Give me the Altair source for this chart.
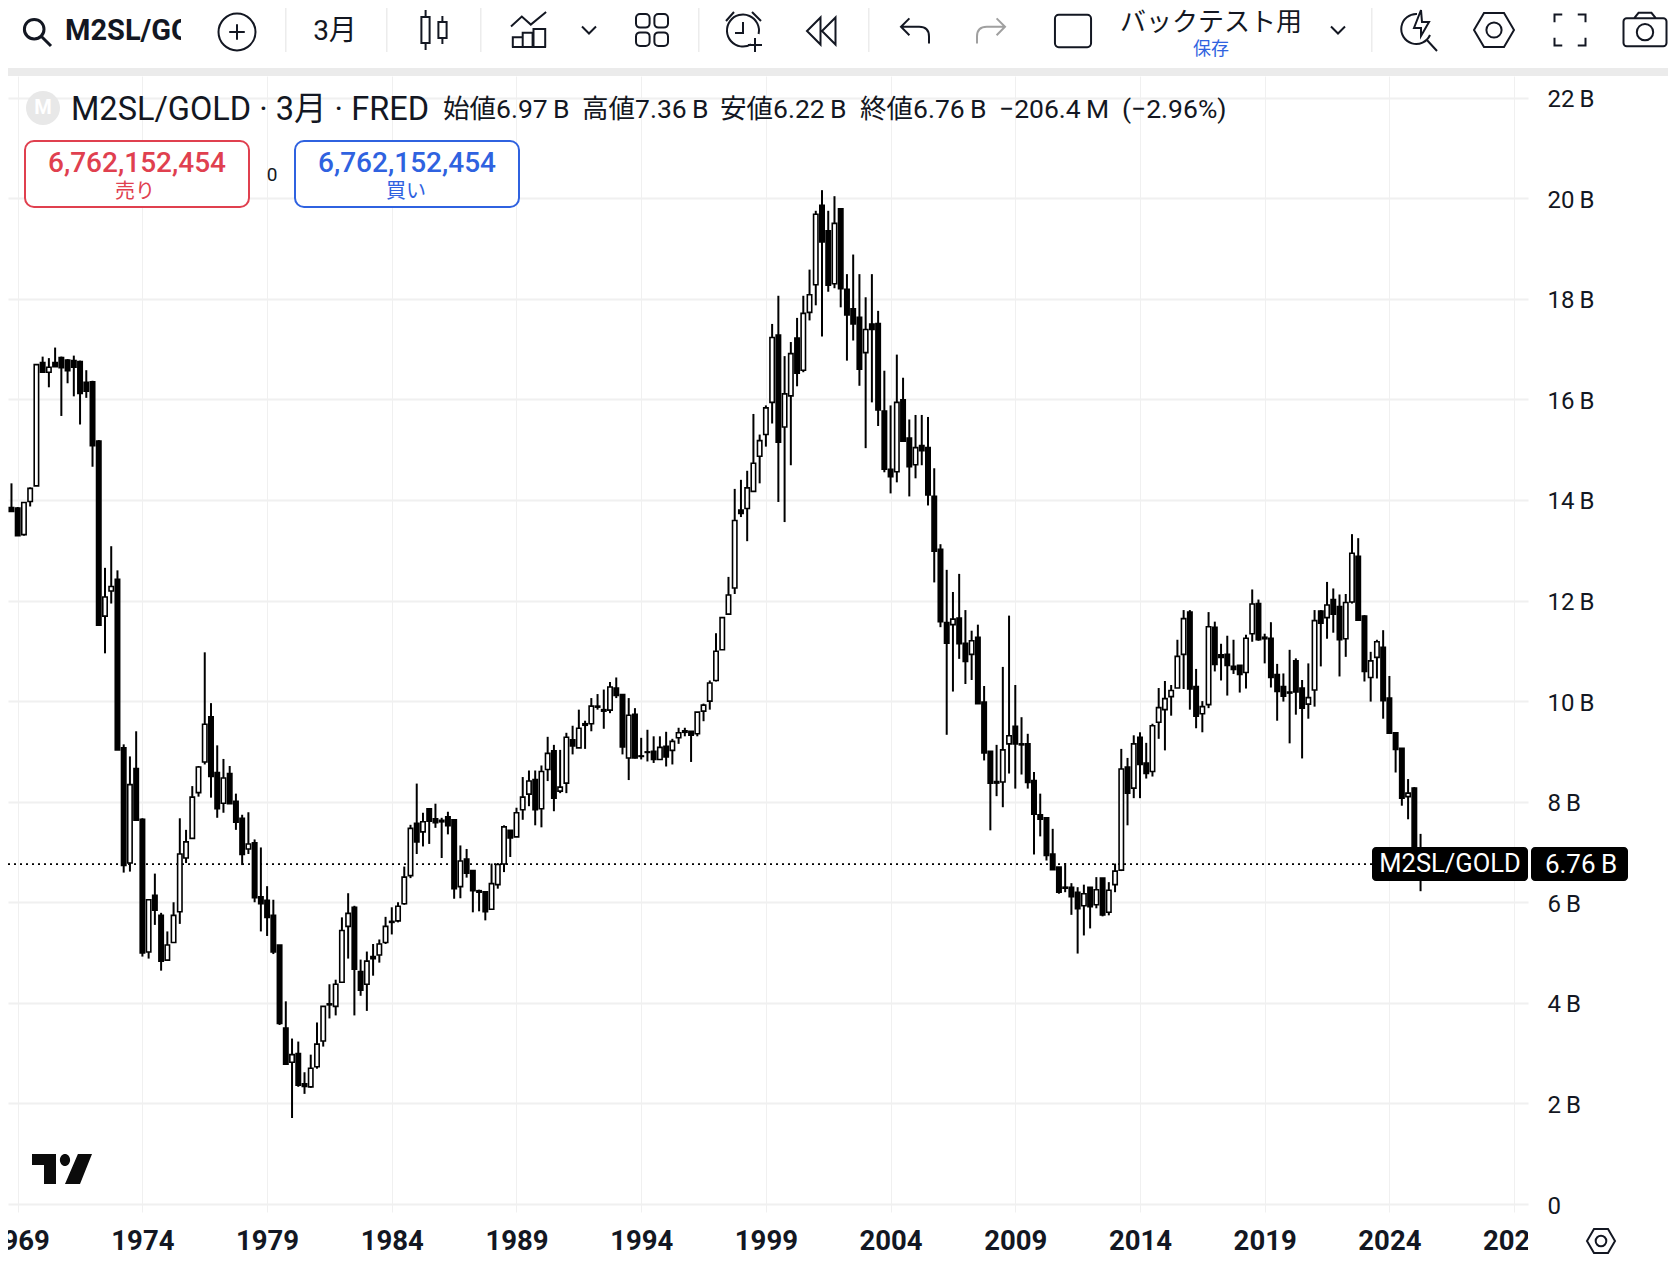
import altair as alt
import pandas as pd

# Quarterly M2SL/GOLD candles, billions, first candle = 1968 Q4
START_YEAR = 1968.75
opens = [
 13.85,13.84,13.31,13.97,14.28,16.73,16.54,16.73,16.83,16.78,
 16.77,16.75,16.34,16.35,15.17,11.69,12.19,12.42,9.07,6.78,
 8.66,7.65,5.01,6.14,5.74,4.85,5.20,5.81,6.88,7.27,
 8.18,8.79,9.69,8.58,7.97,8.56,8.01,7.67,7.06,7.18,
 6.11,6.04,5.74,5.15,3.50,2.82,2.99,2.39,2.33,2.73,
 3.24,3.98,3.93,4.41,5.52,5.90,4.62,4.37,4.92,4.95,
 5.20,5.62,5.63,5.97,6.53,7.57,7.40,7.86,7.66,7.63,
 7.70,7.64,6.31,6.86,6.63,6.23,6.21,5.86,6.35,6.76,
 7.43,7.30,7.84,8.15,8.44,7.86,8.64,9.01,8.21,8.37,
 9.23,9.07,9.55,9.55,9.90,9.83,9.82,10.26,10.13,8.87,
 9.74,8.91,8.99,9.00,8.84,9.10,9.02,9.27,9.41,9.40,
 9.35,9.80,10.00,10.41,11.02,11.73,12.25,13.80,13.83,14.17,
 14.87,15.30,15.94,17.28,15.45,16.07,17.22,16.58,17.73,18.28,
 19.86,19.35,18.30,19.79,18.19,17.80,17.63,16.93,17.50,17.51,
 15.77,14.61,14.56,15.99,15.23,14.70,15.08,15.04,14.07,13.02,
 11.56,11.52,11.65,11.15,10.93,11.27,9.98,9.00,8.40,8.39,
 9.15,9.50,9.15,9.15,8.42,7.74,7.68,6.96,6.70,6.30,
 6.30,6.20,5.93,6.30,5.95,6.48,5.80,6.35,6.64,8.69,
 8.27,9.28,8.77,8.60,9.58,9.83,10.09,10.26,10.93,11.77,
 10.29,9.75,9.93,11.47,10.92,10.93,10.69,10.71,10.57,11.34,
 11.94,11.27,11.25,10.53,10.29,10.18,10.80,10.26,9.94,10.22,
 11.79,11.66,12.02,11.88,11.24,11.97,12.88,11.69,10.47,10.87,
 11.07,10.06,9.37,9.06,8.10,8.27,6.97]
closes = [
 13.77,13.29,13.95,14.23,16.69,16.54,16.64,16.65,16.63,16.57,
 16.64,16.12,16.16,15.08,11.51,12.07,12.28,9.03,6.73,8.34,
 7.63,4.99,6.05,5.84,4.83,5.15,5.74,6.96,7.20,8.09,
 8.69,9.54,8.50,7.86,8.47,7.96,7.59,6.95,7.16,6.09,
 5.97,5.70,5.01,3.59,2.78,2.97,2.36,2.34,2.70,3.18,
 3.93,3.96,4.37,5.44,5.78,4.67,4.25,4.83,4.88,5.17,
 5.52,5.60,5.92,6.50,7.47,7.20,7.60,7.61,7.58,7.60,
 7.52,6.27,6.82,6.58,6.23,6.20,5.81,6.37,6.75,7.50,
 7.28,7.78,8.09,8.41,7.84,8.60,8.96,8.07,8.29,9.28,
 9.11,9.46,9.52,9.90,9.88,9.80,10.28,10.11,9.09,9.72,
 8.87,8.90,8.98,8.84,9.08,8.89,9.20,9.37,9.38,9.32,
 9.78,9.92,10.36,10.99,11.66,12.11,13.59,13.73,14.24,14.73,
 15.18,15.83,17.23,15.15,16.11,16.91,16.52,17.71,18.08,19.68,
 19.13,18.27,19.50,18.20,17.68,17.50,16.60,17.39,17.39,15.79,
 14.61,14.46,15.94,15.17,14.66,15.04,14.98,14.10,12.98,11.58,
 11.15,11.63,11.14,10.79,11.20,9.95,8.97,8.37,8.37,9.03,
 9.31,9.15,9.13,8.38,7.75,7.65,6.93,6.65,6.20,6.28,
 6.11,5.87,6.17,5.91,6.25,5.75,6.24,6.62,8.65,8.17,
 9.15,8.74,8.56,9.51,9.87,10.05,10.21,10.89,11.64,10.24,
 9.70,9.89,11.48,10.73,10.87,10.71,10.63,10.53,11.25,11.93,
 11.22,11.24,10.47,10.19,10.10,10.16,10.18,9.86,10.07,11.60,
 11.55,11.91,11.73,11.22,11.96,12.94,11.61,10.59,10.80,11.18,
 10.01,9.36,9.04,8.07,8.17,6.97,6.76]
highs = [
 14.33,13.86,13.95,14.25,16.69,16.85,16.82,17.03,16.85,16.80,
 16.87,16.77,16.58,16.37,15.19,12.65,13.08,12.60,9.14,8.90,
 9.40,7.67,6.05,6.57,5.79,5.42,6.00,7.67,7.44,8.31,
 8.71,10.97,9.96,9.12,8.85,8.71,8.16,7.74,7.79,7.25,
 7.09,6.32,6.05,5.15,4.03,3.29,3.23,2.62,2.97,3.61,
 3.93,4.37,4.46,5.70,6.18,5.93,4.86,5.02,5.17,5.26,
 5.71,5.90,6.00,6.71,7.54,8.36,7.78,7.86,7.96,7.68,
 7.80,7.64,7.13,7.06,6.63,6.25,6.21,6.77,6.78,7.53,
 7.43,7.88,8.49,8.62,8.62,8.72,9.29,9.13,9.03,9.37,
 9.51,9.83,9.61,10.06,10.14,10.23,10.38,10.47,10.13,10.06,
 9.86,9.27,9.43,9.30,9.30,9.39,9.25,9.47,9.47,9.40,
 9.78,9.95,10.41,11.35,11.66,12.47,14.22,14.40,14.58,15.71,
 15.30,15.88,17.50,18.06,16.86,17.14,17.62,18.06,18.58,19.75,
 20.16,19.75,20.04,19.79,18.49,18.88,18.49,18.03,18.49,17.76,
 16.57,15.88,16.89,16.43,15.60,15.69,15.69,15.65,14.63,13.12,
 12.61,12.17,12.53,11.81,11.40,11.52,10.30,9.00,9.13,10.68,
 11.70,10.32,9.68,9.35,8.59,8.16,7.69,7.46,6.70,6.78,
 6.38,6.30,6.35,6.30,6.50,6.48,6.40,6.77,9.05,8.87,
 9.32,9.38,9.17,9.55,10.26,10.40,10.32,11.22,11.81,11.81,
 10.64,10.00,11.77,11.58,11.14,11.30,11.22,10.71,11.32,12.22,
 12.02,11.34,11.57,10.74,10.55,11.02,10.85,10.42,10.75,11.81,
 11.81,12.37,12.24,12.12,12.13,13.32,13.24,11.71,10.98,11.22,
 11.41,10.50,9.37,9.06,8.45,8.29,7.36]
lows = [
 13.77,13.29,13.29,13.87,14.28,16.54,16.24,16.65,15.67,16.32,
 16.06,15.50,16.03,14.66,11.51,10.95,11.94,9.03,6.59,6.61,
 7.63,4.92,4.88,5.55,4.64,4.85,5.20,5.57,6.78,7.27,
 8.10,8.74,8.08,7.68,7.78,7.96,7.44,6.74,6.96,6.00,
 5.42,5.33,4.97,3.56,2.78,1.71,2.33,2.19,2.31,2.69,
 3.13,3.69,3.75,4.41,4.88,3.75,4.14,3.84,4.54,4.80,
 5.17,5.36,5.60,5.95,6.48,6.96,7.11,7.16,7.48,6.88,
 7.35,6.07,6.08,6.49,5.80,5.82,5.64,5.86,6.27,6.60,
 6.90,7.30,7.64,7.91,7.53,7.49,8.41,7.81,8.17,8.17,
 8.94,9.07,9.05,9.40,9.83,9.45,9.76,10.06,8.94,8.43,
 8.86,8.84,8.80,8.77,8.84,8.70,8.74,9.15,9.30,8.79,
 9.30,9.60,9.83,10.39,11.02,11.73,12.13,13.66,13.18,14.17,
 14.33,15.06,15.52,13.96,13.56,14.69,16.26,16.54,17.57,17.87,
 17.25,18.14,18.21,17.83,16.77,17.17,16.27,15.03,15.94,15.47,
 14.55,14.13,14.35,15.17,14.07,14.43,14.69,13.89,12.36,11.47,
 9.33,10.19,10.84,10.34,10.42,9.95,8.82,7.43,8.11,7.89,
 8.56,8.26,8.54,8.26,6.95,7.31,6.83,6.65,6.17,6.20,
 5.75,4.98,5.34,5.48,5.88,5.72,5.74,6.20,6.62,7.53,
 8.07,8.07,8.46,8.50,9.25,9.02,9.71,10.26,10.24,9.83,
 9.46,9.38,9.86,10.59,10.41,10.11,10.54,10.17,10.25,11.18,
 11.20,10.75,10.27,9.61,9.99,9.16,9.73,8.86,9.65,9.89,
 10.69,11.24,11.36,10.49,10.88,11.94,11.60,10.39,9.99,10.45,
 9.65,9.36,8.58,7.92,7.65,6.97,6.22]

year_ticks = [1969, 1974, 1979, 1984, 1989, 1994, 1999, 2004, 2009, 2014, 2019, 2024, 2029]
price_ticks = [0, 2, 4, 6, 8, 10, 12, 14, 16, 18, 20, 22]
last_price = 6.76

INK = "#131722"
RED = "#e0404f"
BLUE = "#2f62e0"
GREY = "#ebebeb"
GRID = "#f0f0f0"
FONT = "Roboto, 'Noto Sans CJK JP'"

df = pd.DataFrame({
    "year": [START_YEAR + i * 0.25 for i in range(len(opens))],
    "open": opens, "high": highs, "low": lows, "close": closes,
})

X0, Y0 = 8, 76      # page position of the plot area
W, H = 1520, 1136
x_scale = alt.Scale(domain=[1968.611, 2029.558], nice=False, zero=False, padding=0)
y_scale = alt.Scale(domain=[-0.159, 22.43], nice=False, zero=False)

one = alt.Data(values=[{"a": 1}])


def txt(s, x, y, size, color=INK, align="left", weight="normal", font=FONT):
    return alt.Chart(one).mark_text(
        text=s, fontSize=size, color=color, align=align, baseline="middle",
        fontWeight=weight, font=font,
    ).encode(x=alt.value(x - X0), y=alt.value(y - Y0))


def box(x0, y0, x1, y1, fill=None, stroke=None, sw=0, radius=0):
    kw = {"cornerRadius": radius, "strokeWidth": sw}
    if fill:
        kw["fill"] = fill
    else:
        kw["fillOpacity"] = 0
    if stroke:
        kw["stroke"] = stroke
    return alt.Chart(one).mark_rect(**kw).encode(
        x=alt.value(x0 - X0), x2=alt.value(x1 - X0),
        y=alt.value(y0 - Y0), y2=alt.value(y1 - Y0))


def icon(path, cx, cy, r, stroke=INK, sw=2.0, fill=None):
    kw = {"shape": path, "size": (2 * r) ** 2, "opacity": 1, "strokeWidth": sw, "stroke": stroke}
    if fill:
        kw["fill"] = fill
        kw["filled"] = True
    else:
        kw["filled"] = False
    return alt.Chart(one).mark_point(**kw).encode(x=alt.value(cx - X0), y=alt.value(cy - Y0))


def circ(cx, cy, r):
    return f"M{cx-r},{cy}A{r},{r} 0 1,1 {cx+r},{cy}A{r},{r} 0 1,1 {cx-r},{cy}Z"


def rrect(x0, y0, x1, y1, q):
    return (f"M{x0+q},{y0}L{x1-q},{y0}A{q},{q} 0 0,1 {x1},{y0+q}L{x1},{y1-q}A{q},{q} 0 0,1 {x1-q},{y1}"
            f"L{x0+q},{y1}A{q},{q} 0 0,1 {x0},{y1-q}L{x0},{y0+q}A{q},{q} 0 0,1 {x0+q},{y0}Z")


wicks = alt.Chart(df).mark_rule(color="black", strokeWidth=2).encode(
    x=alt.X("year:Q", scale=x_scale, title=None, axis=alt.Axis(
        values=year_ticks, format="d", grid=True, gridColor=GRID, gridWidth=1,
        domain=False, ticks=False, labelFontSize=27.5, labelFontWeight="bold", labelColor=INK,
        labelFont="Roboto", labelPadding=15, labelOverlap=False, labelFlush=False, labelBound=False)),
    y=alt.Y("low:Q", scale=y_scale, title=None, axis=alt.Axis(
        orient="right", values=price_ticks, grid=True, gridColor=GRID, gridWidth=2,
        domain=False, ticks=False, labelFontSize=24, labelColor=INK, labelFont="Roboto",
        labelPadding=19, labelOffset=2, labelOverlap=False, labelFlush=False, labelBound=False,
        labelExpr="datum.value == 0 ? '0' : datum.value + '\u2009B'")),
    y2="high:Q",
)

bodies = alt.Chart(df).mark_bar(size=4.4, stroke="black", strokeWidth=1.6).encode(
    x=alt.X("year:Q", scale=x_scale, title=None),
    y=alt.Y("open:Q", scale=y_scale, title=None),
    y2="close:Q",
    fill=alt.condition("datum.close > datum.open", alt.value("white"), alt.value("black")),
)

price_line = alt.Chart(alt.Data(values=[{"p": last_price}])).mark_rule(
    color="black", strokeWidth=1.8, strokeDash=[2, 4]
).encode(y=alt.Y("p:Q", scale=y_scale, title=None), x=alt.value(0), x2=alt.value(W))

TV = ("M-1,-.5L-.2,-.5L-.2,.5L-.6,.5L-.6,-.133L-1,-.133Z"
      "M-.07,-.3A.17,.2 0 1,1 .27,-.3A.17,.2 0 1,1 -.07,-.3Z"
      "M.53,-.5L1,-.5L.6,.5L.1,.5Z")
HEX = "M-1,0L-.5,-.85L.5,-.85L1,0L.5,.85L-.5,.85Z" + circ(0, 0, .38)
CANDLES = ("M-.63,-.65L-.22,-.65L-.22,.65L-.63,.65Z M-.42,-1L-.42,-.65 M-.42,.65L-.42,1"
           "M.22,-.4L.63,-.4L.63,.4L.22,.4Z M.42,-.7L.42,-.4 M.42,.4L.42,.7")
BARS = ("M-.95,.95L.95,.95 M-.9,.95L-.9,.4L-.35,.4L-.35,.95 M-.35,.95L-.35,.15L.2,.15L.2,.95"
        "M.25,.95L.25,-.05L.9,-.05L.9,.95 M-1,-.2L-.4,-.75L.1,-.3L.95,-1")
SQUARES = (rrect(-1, -1, -.15, -.15, .25) + rrect(.15, -1, 1, -.15, .25)
           + rrect(-1, .15, -.15, 1, .25) + rrect(.15, .15, 1, 1, .25))
ALARM = ("M.3,.62A.8,.8 0 1,1 .68,.1 M-.1,-.5L-.1,.05L-.5,.05 M-.95,-.55L-.55,-1 M.35,-1L.8,-.55"
         "M.5,.3L.5,1 M.15,.65L.85,.65")
REWIND = "M-.1,-.9L-1,0L-.1,.9Z M.9,-.9L0,0L.9,.9Z"
UNDO = "M-.4,-.9L-1,-.3L-.4,.3 M-1,-.3L.3,-.3Q1,-.3 1,.4L1,.9"
REDO = "M.4,-.9L1,-.3L.4,.3 M1,-.3L-.3,-.3Q-1,-.3 -1,.4L-1,.9"
BOLT = ("M-.1,-.8A.75,.75 0 1,0 .55,.25 M.1,-1L-.25,-.1L.1,-.1L.1,.3L.5,-.4L.15,-.4Z M.35,.45L.9,1.05")
CORNERS = "M-1,-.5L-1,-1L-.5,-1 M.5,-1L1,-1L1,-.5 M1,.5L1,1L.5,1 M-.5,1L-1,1L-1,.5"
CAMERA = rrect(-1, -.55, 1, .75, .15) + "M-.5,-.55L-.3,-.8L.3,-.8L.5,-.55" + circ(0, .1, .38)
SEARCH = circ(-.2, -.2, .7) + "M.3,.3L1,1"
PLUS = circ(0, 0, 1) + "M-.42,0L.42,0 M0,-.42L0,.42"
CHEV = "M-1,-.5L0,.5L1,-.5"

chrome = [
    # grey frame
    box(8, 68, 1668, 76, fill=GREY),
    # hide what the axis cuts off
    box(1528, 1216, 1585, 1262, fill="white"),
    # logo
    icon(TV, 62, 1169, 30, stroke="#0b0b0b", sw=0, fill="#0b0b0b"),
    # header
    alt.Chart(one).mark_circle(size=1156, color="#e8e8e8", opacity=1).encode(x=alt.value(43 - X0), y=alt.value(108 - Y0)),
    txt("M", 43, 108, 20, color="white", align="center", weight="bold"),
    txt("M2SL/GOLD · 3月 · FRED", 71, 110, 32.5),
    txt("始値6.97\u2009B", 443, 110, 26.5),
    txt("高値7.36\u2009B", 582, 110, 26.5),
    txt("安値6.22\u2009B", 720, 110, 26.5),
    txt("終値6.76\u2009B", 860, 110, 26.5),
    txt("−206.4\u2009M", 999, 110, 26.5),
    txt("(−2.96%)", 1122, 110, 26.5),
    # order boxes
    box(25, 141, 249, 207, fill="white", stroke=RED, sw=2, radius=9),
    txt("6,762,152,454", 137, 164, 28, color=RED, align="center", weight=500),
    txt("売り", 135, 192, 20, color=RED, align="center"),
    txt("0", 272, 175, 19, align="center"),
    box(295, 141, 519, 207, fill="white", stroke=BLUE, sw=2, radius=9),
    txt("6,762,152,454", 407, 164, 28, color=BLUE, align="center", weight=500),
    txt("買い", 406, 192, 20, color=BLUE, align="center"),
    # price tag
    box(1372, 847, 1528, 881, fill="black", radius=4),
    box(1531, 847, 1628, 881, fill="black", radius=4),
    txt("M2SL/GOLD", 1450, 864, 25.5, color="white", align="center"),
    txt("6.76\u2009B", 1581, 865, 26, color="white", align="center"),
    # toolbar
    icon(SEARCH, 37, 32, 14, sw=3),
    txt("M2SL/GO", 65, 31, 29, weight="bold"),
    box(181, 5, 198, 60, fill="white"),
    icon(PLUS, 237, 32, 18.5),
    txt("3月", 335, 32, 28, align="center"),
    icon(CANDLES, 434, 30, 20),
    icon(BARS, 529, 30, 18),
    icon(CHEV, 589, 30, 7),
    icon(SQUARES, 652, 30, 16),
    icon(ALARM, 745, 32, 20),
    icon(REWIND, 822, 31, 15),
    icon(UNDO, 915, 31, 14),
    icon(REDO, 991, 31, 14, stroke="#a0a0a0"),
    icon(rrect(-.95, -.85, .95, .85, .2), 1073, 31, 19),
    txt("バックテスト用", 1211, 23, 26, align="center"),
    txt("保存", 1211, 50, 18, color=BLUE, align="center"),
    icon(CHEV, 1338, 30, 7),
    icon(BOLT, 1419, 30, 20),
    icon(HEX, 1494, 30, 20),
    icon(CORNERS, 1570, 30, 15.5),
    icon(CAMERA, 1645, 30, 21.5),
    icon(HEX, 1601, 1241, 14),
]
for sx in [285, 386, 480, 698, 868, 1371]:
    chrome.append(box(sx, 8, sx + 1.5, 52, fill="#ececec"))

chart = alt.layer(wicks, price_line, bodies, *chrome).properties(
    width=W, height=H,
    padding={"left": 0, "top": 68, "right": 140, "bottom": 56},
    autosize=alt.AutoSizeParams(type="none"),
).configure_view(stroke=None)

chart.save("out.html", embed_options={"renderer": "svg", "actions": False})
